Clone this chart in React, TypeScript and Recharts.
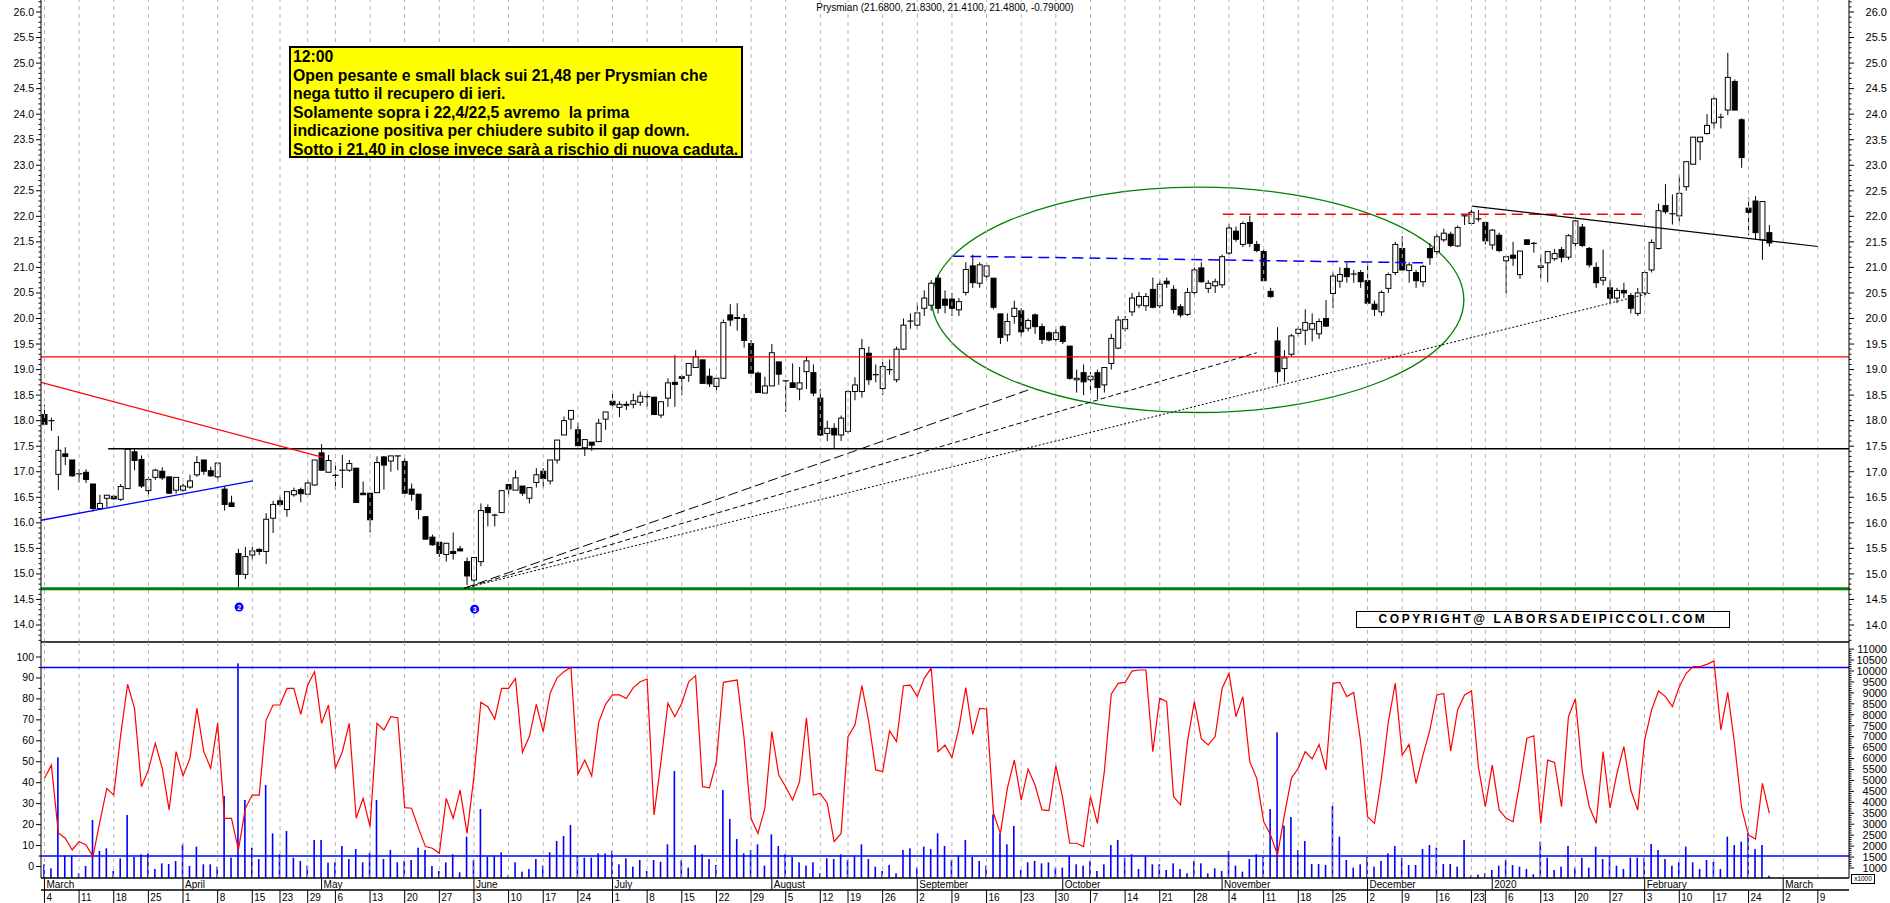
import React from "react";
import {
  ComposedChart,
  Bar,
  Line,
  XAxis,
  YAxis,
  ReferenceLine,
  ReferenceArea,
  ReferenceDot,
} from "recharts";

// Borsa Italiana calendar, Mar 2019 -> Mar 2020
const holidays = [
  "2019-04-19", "2019-04-22", "2019-05-01", "2019-08-15",
  "2019-12-24", "2019-12-25", "2019-12-26", "2019-12-31", "2020-01-01",
];
const monthLabels = ["2020", "February", "March", "April", "May", "June", "July",
  "August", "September", "October", "November", "December"];
const hiddenWeekLabels = ["2019-12-30"];

// daily candles (Prysmian), 4 Mar 2019 .. 27 Feb 2020
const opens = [
  18.12, 18.0, 16.95, 17.35, 17.23, 16.96, 16.99, 16.76, 16.28, 16.48,
  16.52, 16.46, 16.67, 17.39, 17.24, 16.63, 16.89, 17.01, 16.9, 16.64,
  16.64, 16.7, 16.94, 17.23, 17.02, 16.9, 16.66, 16.39, 15.4, 14.99,
  15.37, 15.48, 15.44, 16.09, 16.43, 16.26, 16.55, 16.65, 16.56, 16.74,
  17.37, 16.99, 16.93, 17.03, 17.03, 17.07, 16.58, 16.58, 16.59, 17.29,
  17.21, 17.31, 17.2, 16.66, 16.56, 16.12, 15.72, 15.62, 15.38, 15.44,
  15.49, 15.24, 14.88, 15.24, 16.3, 16.15, 16.2, 16.75, 16.64, 16.72,
  16.48, 16.79, 17.01, 16.82, 17.23, 17.72, 18.03, 17.82, 17.47, 17.58,
  17.59, 18.03, 18.38, 18.26, 18.3, 18.32, 18.36, 18.47, 18.46, 18.11,
  18.44, 18.75, 18.86, 18.89, 19.04, 19.19, 18.87, 18.67, 18.83, 20.07,
  20.02, 20.0, 19.51, 18.93, 18.54, 18.68, 19.15, 18.78, 18.74, 18.62,
  18.96, 18.94, 18.44, 17.75, 17.85, 17.72, 17.79, 18.57, 18.57, 19.32,
  18.9, 18.63, 19.0, 18.8, 19.4, 19.95, 19.87, 20.2, 20.26, 20.79,
  20.38, 20.38, 20.17, 20.51, 21.03, 20.69, 20.83, 20.79, 20.09, 19.68,
  20.04, 20.15, 19.81, 20.07, 19.84, 19.72, 19.59, 19.84, 19.46, 18.8,
  18.94, 18.8, 18.94, 18.7, 19.12, 19.42, 19.8, 20.13, 20.26, 20.25,
  20.57, 20.25, 20.73, 20.57, 20.23, 20.08, 20.51, 20.99, 20.59, 20.64,
  20.66, 21.28, 21.71, 21.45, 21.88, 21.45, 21.31, 20.53, 19.56, 19.02,
  19.3, 19.71, 19.77, 19.79, 19.7, 20.0, 20.49, 20.73, 20.98, 20.87,
  20.9, 20.74, 20.28, 20.13, 20.59, 20.9, 21.37, 20.94, 20.9, 20.72,
  21.37, 21.31, 21.54, 21.65, 21.42, 22.01, 21.86, 21.95, 21.88, 21.44,
  21.63, 21.13, 21.24, 20.86, 21.54, 21.47, 21.0, 21.09, 21.17, 21.35,
  21.2, 21.47, 21.79, 21.37, 21.0, 20.75, 20.6, 20.4, 20.55, 20.45,
  20.1, 20.5, 20.95, 21.37, 22.21, 22.05, 22.01, 22.58, 23.02, 23.46,
  23.62, 23.83, 23.94, 24.08, 24.64, 23.89, 22.16, 22.3, 21.54, 21.68,
];
const highs = [
  18.31, 18.06, 17.7, 17.48, 17.23, 17.05, 17.05, 16.76, 16.55, 16.54,
  16.54, 16.76, 17.44, 17.44, 17.32, 16.9, 17.06, 17.09, 16.9, 16.89,
  16.77, 16.94, 17.31, 17.23, 17.1, 17.18, 16.71, 16.53, 15.49, 15.53,
  15.53, 15.5, 16.19, 16.43, 16.51, 16.61, 16.69, 16.69, 16.84, 17.23,
  17.54, 17.33, 17.13, 17.33, 17.23, 17.07, 16.81, 16.58, 17.3, 17.31,
  17.31, 17.31, 17.26, 16.77, 16.56, 16.12, 15.77, 15.62, 15.6, 15.81,
  15.55, 15.32, 15.32, 16.38, 16.36, 16.18, 16.63, 16.75, 17.03, 16.72,
  16.69, 17.07, 17.07, 17.23, 17.62, 18.08, 18.21, 17.96, 17.63, 17.58,
  18.04, 18.17, 18.58, 18.38, 18.38, 18.53, 18.57, 18.53, 18.46, 18.37,
  18.83, 19.28, 18.89, 19.12, 19.38, 19.19, 19.02, 18.83, 19.98, 20.28,
  20.3, 20.09, 19.58, 18.96, 18.86, 19.5, 19.15, 18.78, 19.12, 19.05,
  19.25, 19.1, 18.62, 18.0, 17.95, 18.1, 18.6, 18.85, 19.6, 19.45,
  19.1, 19.15, 19.2, 19.45, 20.0, 20.1, 20.3, 20.55, 20.75, 20.85,
  20.55, 20.5, 20.4, 21.1, 21.25, 21.1, 21.08, 20.79, 20.09, 20.1,
  20.35, 20.2, 20.0, 20.1, 19.9, 19.75, 19.8, 19.87, 19.46, 19.0,
  19.1, 18.95, 19.0, 19.05, 19.7, 20.05, 20.05, 20.5, 20.52, 20.5,
  20.8, 20.75, 20.8, 20.65, 20.28, 20.6, 21.0, 21.1, 20.75, 20.78,
  21.25, 21.85, 21.8, 21.9, 22.01, 21.52, 21.35, 20.6, 19.83, 19.38,
  19.7, 19.85, 20.18, 20.1, 20.0, 20.36, 20.9, 21.0, 21.09, 20.95,
  20.95, 21.09, 20.35, 20.55, 20.9, 21.5, 21.61, 21.1, 20.95, 21.05,
  21.47, 21.65, 21.76, 21.7, 21.82, 22.01, 22.13, 22.12, 21.9, 21.75,
  21.68, 21.21, 21.5, 21.32, 21.54, 21.5, 21.25, 21.31, 21.36, 21.4,
  21.65, 21.93, 21.85, 21.4, 21.1, 21.35, 20.75, 20.6, 20.7, 20.5,
  20.6, 20.95, 21.55, 22.25, 22.63, 22.43, 22.8, 23.07, 23.55, 23.55,
  24.0, 24.34, 24.01, 25.2, 24.68, 23.92, 22.37, 22.4, 22.3, 21.83,
];
const lows = [
  17.92, 17.8, 16.64, 17.13, 16.9, 16.79, 16.78, 16.22, 16.25, 16.3,
  16.45, 16.43, 16.67, 17.03, 16.68, 16.53, 16.84, 16.84, 16.57, 16.57,
  16.61, 16.67, 16.9, 16.94, 16.9, 16.8, 16.24, 16.32, 14.74, 14.9,
  15.27, 15.37, 15.19, 15.8, 16.32, 16.12, 16.51, 16.4, 16.55, 16.73,
  17.03, 16.99, 16.64, 16.68, 17.0, 16.4, 16.55, 15.81, 16.59, 16.65,
  17.0, 17.03, 16.58, 16.43, 16.07, 15.68, 15.55, 15.33, 15.24, 15.28,
  15.45, 14.78, 14.72, 15.15, 15.93, 15.93, 16.2, 16.53, 16.64, 16.53,
  16.38, 16.69, 16.69, 16.75, 17.16, 17.72, 17.83, 17.51, 17.31, 17.41,
  17.59, 17.82, 18.24, 18.07, 18.21, 18.24, 18.29, 18.27, 18.12, 18.05,
  18.27, 18.27, 18.5, 18.76, 19.04, 18.73, 18.66, 18.59, 18.83, 19.85,
  19.76, 19.43, 18.93, 18.55, 18.54, 18.68, 18.7, 18.17, 18.65, 18.4,
  18.62, 18.48, 17.7, 17.6, 17.46, 17.6, 17.75, 18.4, 18.45, 18.7,
  18.75, 18.5, 18.9, 18.75, 19.38, 19.8, 19.8, 20.05, 20.15, 20.1,
  20.1, 20.05, 20.05, 20.45, 20.6, 20.6, 20.75, 20.18, 19.5, 19.55,
  19.9, 19.65, 19.75, 19.7, 19.5, 19.55, 19.55, 19.5, 18.8, 18.55,
  18.5, 18.6, 18.42, 18.55, 19.0, 19.4, 19.75, 20.05, 20.2, 20.15,
  20.2, 20.2, 20.6, 20.1, 20.02, 20.05, 20.45, 20.7, 20.5, 20.5,
  20.6, 21.25, 21.5, 21.4, 21.4, 21.3, 20.74, 20.4, 18.73, 18.76,
  19.25, 19.65, 19.48, 19.55, 19.6, 19.84, 20.2, 20.6, 20.7, 20.7,
  20.6, 20.3, 20.05, 20.05, 20.5, 20.85, 20.93, 20.7, 20.6, 20.62,
  21.05, 21.25, 21.5, 21.4, 21.4, 21.83, 21.82, 21.9, 21.45, 21.35,
  21.3, 20.49, 21.03, 20.78, 21.45, 21.29, 20.79, 20.71, 21.13, 21.1,
  21.15, 21.4, 21.4, 21.0, 20.6, 20.65, 20.3, 20.3, 20.4, 20.1,
  20.05, 20.45, 20.9, 21.35, 22.05, 21.84, 21.9, 22.5, 23.02, 23.1,
  23.6, 23.72, 23.72, 23.98, 24.08, 22.95, 21.63, 21.55, 21.15, 21.41,
];
const closes = [
  17.93, 17.99, 17.42, 17.3, 16.92, 16.95, 16.85, 16.28, 16.38, 16.54,
  16.47, 16.71, 17.44, 17.22, 16.72, 16.85, 17.03, 16.88, 16.58, 16.89,
  16.72, 16.82, 17.18, 17.01, 16.92, 17.17, 16.36, 16.32, 14.99, 15.34,
  15.45, 15.44, 16.07, 16.36, 16.36, 16.61, 16.63, 16.57, 16.78, 17.23,
  17.03, 17.22, 16.93, 17.03, 17.16, 16.4, 16.55, 16.06, 17.18, 17.13,
  17.31, 17.3, 16.58, 16.56, 16.26, 15.68, 15.57, 15.4, 15.6, 15.4,
  15.45, 14.96, 15.32, 16.24, 16.2, 16.15, 16.63, 16.66, 16.88, 16.58,
  16.69, 16.94, 16.87, 17.23, 17.62, 18.0, 18.2, 17.51, 17.63, 17.52,
  17.95, 18.17, 18.31, 18.32, 18.32, 18.39, 18.48, 18.47, 18.12, 18.37,
  18.74, 18.71, 18.83, 19.12, 19.25, 18.73, 18.72, 18.83, 19.92, 19.97,
  20.0, 19.57, 18.93, 18.55, 18.68, 19.33, 18.91, 18.78, 18.65, 18.74,
  19.17, 18.54, 17.72, 17.85, 17.72, 18.05, 18.57, 18.7, 19.41, 18.8,
  18.9, 19.06, 19.0, 19.4, 19.87, 19.95, 20.11, 20.4, 20.69, 20.2,
  20.26, 20.2, 20.33, 20.96, 20.7, 21.05, 21.03, 20.22, 19.63, 19.94,
  20.2, 19.74, 19.96, 19.84, 19.59, 19.58, 19.72, 19.55, 18.83, 18.83,
  18.76, 18.87, 18.65, 19.04, 19.61, 19.97, 19.98, 20.4, 20.43, 20.43,
  20.22, 20.67, 20.68, 20.18, 20.07, 20.51, 20.95, 20.72, 20.69, 20.72,
  21.21, 21.77, 21.55, 21.86, 21.47, 21.33, 20.74, 20.43, 18.96, 19.23,
  19.66, 19.79, 19.92, 19.9, 19.94, 19.85, 20.83, 20.86, 20.82, 20.87,
  20.72, 20.3, 20.18, 20.51, 20.86, 21.45, 20.95, 21.05, 20.74, 21.02,
  21.19, 21.6, 21.67, 21.43, 21.78, 22.01, 22.08, 21.95, 21.52, 21.73,
  21.33, 21.21, 21.18, 21.32, 21.45, 21.47, 21.03, 21.31, 21.27, 21.2,
  21.62, 21.91, 21.43, 21.05, 20.7, 20.8, 20.4, 20.55, 20.5, 20.2,
  20.5, 20.9, 21.49, 22.11, 22.09, 22.05, 22.45, 23.07, 23.55, 23.55,
  23.78, 24.3, 23.94, 24.72, 24.08, 23.15, 22.08, 21.68, 22.29, 21.48,
];
// oscillator (0..100) and volume (x1000)
const oscillator = [
  42.1, 48.4, 16, 13.5, 7.9, 11.9, 10.3, 4.7, 21.4, 37.3,
  34.1, 62.8, 87.0, 75.5, 38.1, 46.1, 58.8, 46.9, 27.0, 54.8,
  43.2, 51.6, 75.5, 54.8, 46.9, 68.3, 23.0, 23.0, 7.9, 27.8,
  34.1, 34.1, 69.9, 77.1, 77.1, 85.0, 85.0, 72.6, 86.6, 93.0,
  68.3, 77.1, 46.9, 54.8, 68.3, 23.0, 32.5, 19.0, 68.3, 65.2,
  71.5, 71.0, 28.1, 27.8, 18.2, 9.5, 8.7, 6.3, 32.5, 23.0,
  36.5, 15.8, 42.9, 78.4, 76.3, 70.4, 85.0, 85.0, 89.8, 54.5,
  62.0, 77.4, 64.4, 82.7, 90.1, 93.0, 95.1, 44.0, 50.8, 43.2,
  68.8, 77.4, 81.9, 81.9, 80.2, 85.4, 88.2, 89.5, 24.6, 50.0,
  77.9, 71.5, 77.9, 88.2, 91.1, 38.1, 37.6, 50.0, 87.9, 88.5,
  89.0, 61.2, 23.0, 15.8, 27.8, 64.4, 43.7, 38.1, 31.7, 40.5,
  71.0, 34.1, 34.9, 30.2, 11.9, 15.8, 62.0, 67.5, 86.3, 69.1,
  46.1, 45.3, 64.7, 59.6, 86.3, 86.6, 81.1, 89.8, 94.6, 54.8,
  58.0, 52.0, 66.0, 85.4, 63.1, 75.5, 75.2, 25.4, 15.8, 37.3,
  50.8, 31.7, 46.5, 38.9, 27.0, 26.7, 48.1, 32.5, 11.1, 11.1,
  9.5, 33.3, 20.6, 45.3, 82.2, 87.4, 87.9, 93.3, 93.8, 93.8,
  54.8, 80.3, 78.7, 33.3, 29.4, 59.6, 78.7, 60.9, 58.0, 62.0,
  85.0, 92.2, 71.5, 81.1, 50.0, 42.1, 21.4, 15.0, 5.5, 24.6,
  42.1, 46.9, 54.8, 51.3, 58.3, 46.1, 87.4, 87.9, 81.1, 83.1,
  59.6, 23.8, 20.6, 42.1, 69.1, 87.4, 53.2, 58.3, 39.7, 53.2,
  65.2, 81.9, 82.6, 55.1, 74.7, 81.9, 83.8, 47.6, 28.6, 48.4,
  27.0, 23.0, 21.4, 40.5, 61.2, 62.4, 20.6, 50.8, 49.7, 28.6,
  71.5, 80.0, 45.3, 28.6, 20.6, 54.8, 27.8, 44.5, 57.2, 36.5,
  27.0, 60.4, 74.7, 83.8, 81.1, 76.3, 85.8, 92.2, 95.4, 95.4,
  96.5, 98.1, 65.2, 83.1, 58.0, 27.8, 15.0, 13.1, 39.7, 25.4,
];
const volume = [
  1168, 985, 6056, 1564, 1564, 756, 1092, 3193, 1777, 1898,
  863, 1442, 3421, 1503, 1625, 1670, 954, 1213, 1183, 1320,
  2081, 1092, 1975, 1168, 1168, 1061, 4289, 1472, 10350, 4107,
  1929, 1411, 4792, 2584, 1625, 2690, 1472, 1320, 1107, 2279,
  2279, 1244, 1259, 2005, 1411, 1868, 1259, 1700, 4107, 1411,
  1822, 1259, 1320, 1366, 1929, 1822, 1092, 863, 1259, 1625,
  802, 2432, 1366, 3695, 1518, 1564, 1716, 650, 1259, 833,
  954, 1411, 1107, 1716, 2234, 2462, 2964, 1564, 1472, 1472,
  1670, 1670, 1777, 1168, 1442, 1061, 1366, 863, 1366, 1290,
  2081, 5431, 1366, 1016, 2051, 1625, 1411, 1137, 4563, 3239,
  2325, 1670, 1822, 2081, 1107, 2538, 2005, 1625, 1503, 1259,
  1107, 1259, 756, 1442, 1411, 1625, 1366, 1564, 2081, 1411,
  1061, 863, 1137, 756, 1822, 1898, 1016, 1975, 1868, 2584,
  2005, 1366, 1564, 2279, 1503, 1320, 1107, 3452, 2584, 2081,
  2919, 909, 1259, 1320, 1213, 1259, 1016, 1016, 1564, 1168,
  1107, 1320, 863, 1168, 2051, 2279, 1472, 1625, 954, 1564,
  1168, 1168, 909, 1213, 954, 756, 1320, 1213, 756, 985,
  863, 1777, 1107, 833, 1411, 1625, 1503, 3695, 7197, 2934,
  3330, 1822, 2234, 1183, 1183, 1137, 3832, 2432, 1366, 1016,
  1168, 1503, 1061, 1320, 1670, 2005, 1472, 1137, 1137, 1868,
  2051, 1929, 1183, 1183, 1061, 2279, 650, 700, 756, 909,
  1107, 1366, 1137, 1061, 954, 711, 2203, 1472, 909, 1061,
  2005, 1016, 1472, 1016, 1975, 1411, 1564, 1107, 954, 1472,
  1472, 1472, 2097, 1822, 1411, 1107, 1259, 1975, 1259, 954,
  1366, 1290, 954, 2432, 2051, 2203, 2600, 1868, 2051, 650,
];

// trading-day calendar incl. the empty days at the right of the chart
function buildDays() {
  const out: string[] = [];
  const d = new Date(Date.UTC(2019, 2, 4));
  const end = Date.UTC(2020, 2, 13);
  while (d.getTime() <= end) {
    const wd = d.getUTCDay();
    const iso = d.toISOString().slice(0, 10);
    if (wd !== 0 && wd !== 6 && !holidays.includes(iso)) out.push(iso);
    d.setUTCDate(d.getUTCDate() + 1);
  }
  return out;
}
const days = buildDays();
const weekTicks = days
  .map((d, i) => i)
  .filter((i) => i === 0 || new Date(days[i]).getUTCDay() < new Date(days[i - 1]).getUTCDay());
const monthTicks = days
  .map((d, i) => i)
  .filter((i) => i === 0 || days[i].slice(5, 7) !== days[i - 1].slice(5, 7));

const rows = opens.map((o, i) => ({
  i,
  o,
  h: highs[i],
  l: lows[i],
  c: closes[i],
  range: [lows[i], highs[i]],
  osc: oscillator[i],
  vol: volume[i],
}));

const X_DOMAIN = [-0.5, days.length - 0.5];
const P_DOMAIN = [13.667, 26.235];
const O_DOMAIN = [-5.49, 107.16];
const V_DOMAIN = [543, 11325];
const priceTicks = Array.from({ length: 126 }, (_, k) => Math.round((13.7 + k * 0.1) * 10) / 10);
const oscTicks = Array.from({ length: 21 }, (_, k) => k * 5);
const volTicks = Array.from({ length: 101 }, (_, k) => 1000 + k * 100);

const FONT = "'Liberation Sans', Arial, sans-serif";
const GRID = "#b4b4b4";

const Candle = (props: any) => {
  const { x, y, width, height, payload } = props;
  const top = Math.min(y, y + height);
  const h = Math.abs(height);
  const span = payload.h - payload.l || 1;
  const py = (v: number) => top + ((payload.h - v) / span) * h;
  const cx = x + width / 2;
  const bTop = py(Math.max(payload.o, payload.c));
  const bBot = py(Math.min(payload.o, payload.c));
  const black = payload.c < payload.o;
  return (
    <g>
      <line x1={cx} x2={cx} y1={top} y2={top + h} stroke="#000" strokeWidth={1} />
      {bBot - bTop < 1 ? (
        <line x1={cx - 3} x2={cx + 3} y1={bTop} y2={bTop} stroke="#000" strokeWidth={1.2} />
      ) : (
        <rect x={cx - 2.5} y={bTop} width={5} height={bBot - bTop} fill={black ? "#000" : "#fff"} stroke="#000" strokeWidth={1} />
      )}
    </g>
  );
};

const VolBar = (props: any) => {
  const { x, y, width, height } = props;
  return <rect x={x + width / 2 - 0.8} y={y} width={1.6} height={Math.max(height, 0)} fill="#0000ff" />;
};

const LeftTick = ({ x, y, payload, step, fmt }: any) => {
  const v = payload.value;
  const major = Math.abs(v / step - Math.round(v / step)) < 1e-6;
  return (
    <g>
      <line x1={x - (major ? 5 : 2.5)} x2={x} y1={y} y2={y} stroke="#000" />
      {major && (
        <text x={x - 7} y={y + 3.5} textAnchor="end" fontSize={10.5} fontFamily={FONT} fill="#000">
          {fmt(v)}
        </text>
      )}
    </g>
  );
};
const RightTick = ({ x, y, payload, step, fmt }: any) => {
  const v = payload.value;
  const major = Math.abs(v / step - Math.round(v / step)) < 1e-6;
  return (
    <g>
      <line x1={x} x2={x + (major ? 5 : 2.5)} y1={y} y2={y} stroke="#000" />
      {major && (
        <text x={1887} y={y + 3.8} textAnchor="end" fontSize={11} fontFamily={FONT} fill="#000">
          {fmt(v)}
        </text>
      )}
    </g>
  );
};

const WeekTick = ({ x, y, payload }: any) => {
  const d = days[payload.value];
  return (
    <g>
      <line x1={x} x2={x} y1={y} y2={y + 13} stroke="#000" />
      {!hiddenWeekLabels.includes(d) && (
        <text x={x + 2} y={y + 10.5} fontSize={10} fontFamily={FONT} fill="#000">
          {Number(d.slice(8, 10))}
        </text>
      )}
    </g>
  );
};
const MonthTick = ({ x, y, payload }: any) => {
  const d = days[payload.value];
  const m = Number(d.slice(5, 7));
  const label = m === 1 ? d.slice(0, 4) : monthLabels[m - 1];
  return (
    <g>
      <line x1={x} x2={x} y1={y} y2={y + 12} stroke="#000" />
      <text x={x + 2} y={y + 10} fontSize={10} fontFamily={FONT} fill="#000">
        {label}
      </text>
    </g>
  );
};

const Ellipse = (props: any) => {
  const { x, y, width, height } = props;
  return (
    <ellipse cx={x + width / 2} cy={y + height / 2} rx={width / 2} ry={height / 2} fill="none" stroke="#008000" strokeWidth={1.3} />
  );
};
const Marker = (label: string) => (props: any) => (
  <g>
    <circle cx={props.cx} cy={props.cy} r={4.5} fill="#0000ff" />
    <text x={props.cx} y={props.cy + 3} textAnchor="middle" fontSize={7} fontWeight="bold" fill="#fff" fontFamily={FONT}>
      {label}
    </text>
  </g>
);

const fmt1 = (v: number) => v.toFixed(1);
const fmt0 = (v: number) => String(v);

export default function App() {
  const margin = { top: 0, right: 0, bottom: 0, left: 0 };
  return (
    <div style={{ position: "absolute", left: 0, top: 0, width: 1890, height: 903, background: "#fff", fontFamily: FONT }}>
      <ComposedChart width={1890} height={643} data={rows} margin={margin} style={{ position: "absolute", left: 0, top: 0 }}>
        <XAxis dataKey="i" type="number" domain={X_DOMAIN} allowDataOverflow height={1} tick={false} tickLine={false} axisLine={{ stroke: "#000", strokeWidth: 1.5 }} />
        <YAxis yAxisId="p" domain={P_DOMAIN} allowDataOverflow ticks={priceTicks} interval={0} width={41} tickSize={0} tickMargin={0} tickLine={false} axisLine={{ stroke: "#000" }} tick={<LeftTick step={0.5} fmt={fmt1} />} />
        <YAxis yAxisId="pr" orientation="right" domain={P_DOMAIN} allowDataOverflow ticks={priceTicks} interval={0} width={41} tickSize={0} tickMargin={0} tickLine={false} axisLine={{ stroke: "#000" }} tick={<RightTick step={0.5} fmt={fmt1} />} />
        {weekTicks.map((t) => (
          <ReferenceLine key={"g" + t} yAxisId="p" x={t} stroke={GRID} strokeDasharray="4 4" />
        ))}
        <ReferenceLine yAxisId="p" y={19.25} stroke="#ff0000" strokeWidth={1.3} />
        <ReferenceLine yAxisId="p" segment={[{ x: 9.2, y: 17.45 }, { x: X_DOMAIN[1], y: 17.45 }]} stroke="#000" strokeWidth={1.3} ifOverflow="hidden" />
        <ReferenceLine yAxisId="p" y={14.71} stroke="#008000" strokeWidth={3} />
        <ReferenceLine yAxisId="p" segment={[{ x: -0.5, y: 18.75 }, { x: 40.2, y: 17.28 }]} stroke="#ff0000" strokeWidth={1.2} ifOverflow="hidden" />
        <ReferenceLine yAxisId="p" segment={[{ x: -0.5, y: 16.05 }, { x: 30.1, y: 16.82 }]} stroke="#0000ff" strokeWidth={1.3} ifOverflow="hidden" />
        <ReferenceLine yAxisId="p" segment={[{ x: 60.6, y: 14.72 }, { x: 142.0, y: 18.6 }]} stroke="#000" strokeDasharray="10 4" ifOverflow="hidden" />
        <ReferenceLine yAxisId="p" segment={[{ x: 60.6, y: 14.72 }, { x: 175.0, y: 19.33 }]} stroke="#000" strokeDasharray="5 3" ifOverflow="hidden" />
        <ReferenceLine yAxisId="p" segment={[{ x: 60.6, y: 14.72 }, { x: 231.9, y: 20.5 }]} stroke="#000" strokeDasharray="2 2" ifOverflow="hidden" />
        <ReferenceLine yAxisId="p" segment={[{ x: 131.2, y: 21.22 }, { x: 199.0, y: 21.09 }]} stroke="#0000ff" strokeWidth={1.5} strokeDasharray="11 6" ifOverflow="hidden" />
        <ReferenceLine yAxisId="p" segment={[{ x: 170.1, y: 22.04 }, { x: 230.9, y: 22.04 }]} stroke="#ff0000" strokeWidth={1.5} strokeDasharray="11 6" ifOverflow="hidden" />
        <ReferenceLine yAxisId="p" segment={[{ x: 206.1, y: 22.2 }, { x: 256.0, y: 21.41 }]} stroke="#000" strokeWidth={1.2} ifOverflow="hidden" />
        <ReferenceArea yAxisId="p" x1={128.1} x2={204.9} y1={18.16} y2={22.57} shape={<Ellipse />} />
        <Bar yAxisId="p" dataKey="range" barSize={5} shape={<Candle />} isAnimationActive={false} />
        <ReferenceDot yAxisId="p" x={28.1} y={14.35} shape={Marker("2")} />
        <ReferenceDot yAxisId="p" x={62.1} y={14.31} shape={Marker("3")} />
      </ComposedChart>

      <ComposedChart width={1890} height={261} data={rows} margin={margin} style={{ position: "absolute", left: 0, top: 642 }}>
        <XAxis xAxisId="w" dataKey="i" type="number" domain={X_DOMAIN} allowDataOverflow ticks={weekTicks} interval={0} height={13} tickSize={0} tickMargin={0} tickLine={false} axisLine={{ stroke: "#000", strokeWidth: 1.5 }} tick={<WeekTick />} />
        <XAxis xAxisId="m" dataKey="i" type="number" domain={X_DOMAIN} allowDataOverflow ticks={monthTicks} interval={0} height={12} tickSize={0} tickMargin={0} tickLine={false} axisLine={{ stroke: "#000", strokeWidth: 1.5 }} tick={<MonthTick />} />
        <YAxis yAxisId="o" domain={O_DOMAIN} allowDataOverflow ticks={oscTicks} interval={0} width={41} tickSize={0} tickMargin={0} tickLine={false} axisLine={{ stroke: "#000" }} tick={<LeftTick step={10} fmt={fmt0} />} />
        <YAxis yAxisId="v" orientation="right" domain={V_DOMAIN} allowDataOverflow ticks={volTicks} interval={0} width={41} tickSize={0} tickMargin={0} tickLine={false} axisLine={{ stroke: "#000" }} tick={<RightTick step={500} fmt={fmt0} />} />
        {weekTicks.map((t) => (
          <ReferenceLine key={"g" + t} xAxisId="w" yAxisId="o" x={t} stroke={GRID} strokeDasharray="4 4" />
        ))}
        <ReferenceLine xAxisId="w" yAxisId="o" y={95} stroke="#0000ff" strokeWidth={1.5} />
        <ReferenceLine xAxisId="w" yAxisId="o" y={5} stroke="#0000ff" strokeWidth={1.5} />
        <Bar xAxisId="w" yAxisId="v" dataKey="vol" barSize={2} shape={<VolBar />} isAnimationActive={false} />
        <Line xAxisId="w" yAxisId="o" dataKey="osc" stroke="#ff0000" strokeWidth={1.2} dot={false} type="linear" isAnimationActive={false} />
      </ComposedChart>

      <div style={{ position: "absolute", left: 700, width: 490, top: 2, textAlign: "center", fontSize: 10, color: "#000" }}>
        Prysmian (21.6800, 21.8300, 21.4100, 21.4800, -0.79000)
      </div>
      <div style={{ position: "absolute", left: 289, top: 46, width: 448, height: 108, background: "#ffff00", border: "2px solid #000", fontWeight: "bold", fontSize: 15.8, lineHeight: "18.5px", paddingLeft: 2, whiteSpace: "pre", color: "#000" }}>
        {"12:00\nOpen pesante e small black sui 21,48 per Prysmian che\nnega tutto il recupero di ieri.\nSolamente sopra i 22,4/22,5 avremo  la prima\nindicazione positiva per chiudere subito il gap down.\nSotto i 21,40 in close invece sarà a rischio di nuova caduta."}
      </div>
      <div style={{ position: "absolute", left: 1356, top: 611, width: 372, height: 15, border: "1px solid #000", fontWeight: "bold", fontSize: 12, letterSpacing: 2.6, lineHeight: "15px", textAlign: "center", color: "#000", background: "#fff", whiteSpace: "nowrap" }}>
        COPYRIGHT@ LABORSADEIPICCOLI.COM
      </div>
      <div style={{ position: "absolute", left: 1851, top: 874, width: 22, height: 8, border: "1px solid #000", fontSize: 6.5, lineHeight: "8px", textAlign: "center", color: "#000", background: "#fff" }}>
        x1000
      </div>
    </div>
  );
}
